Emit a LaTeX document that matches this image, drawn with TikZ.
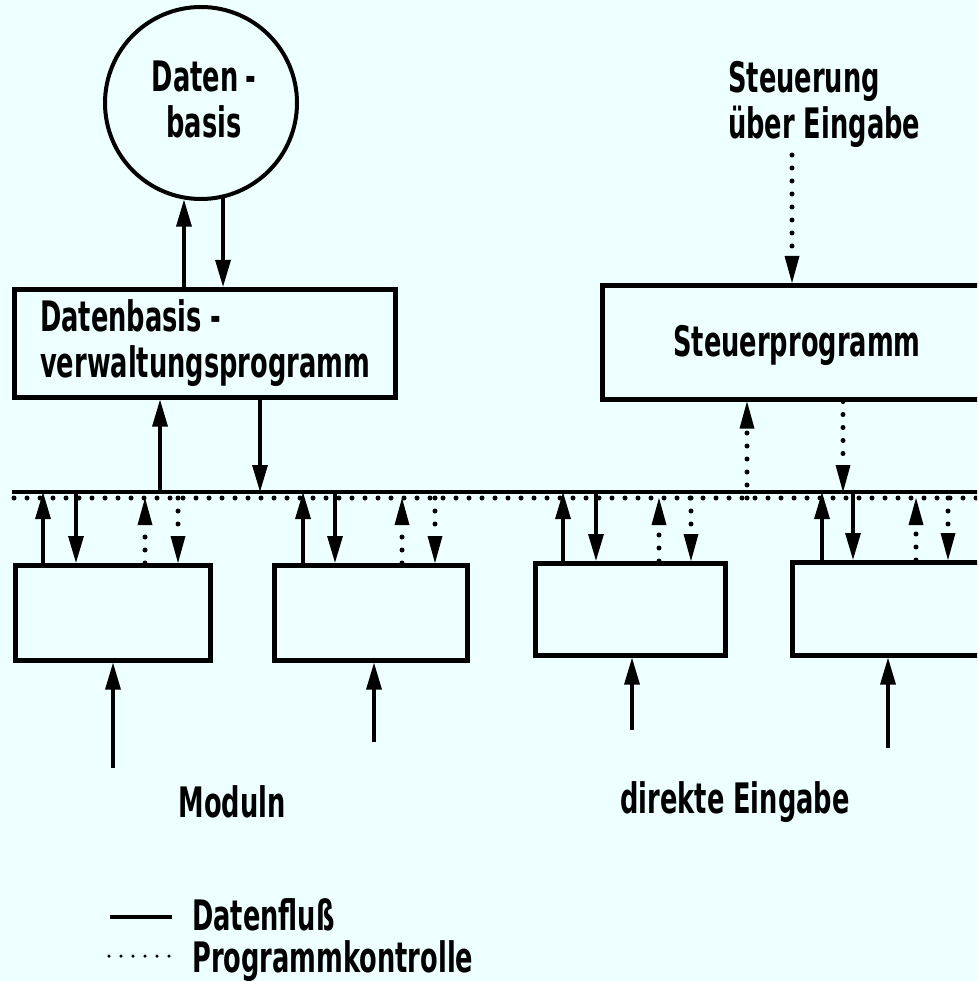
\documentclass[tikz,border=0pt]{standalone}
\usepackage{fontspec}
\usetikzlibrary{arrows.meta,calc}
\newfontfamily\dinfont{DejaVu Sans Condensed Bold}[FakeStretch=0.68]
\definecolor{paper}{HTML}{EEFFFF}
\tikzset{
  box/.style={draw, line width=4.5pt, rectangle, inner sep=0pt, anchor=north west},
  lbl/.style={font=\dinfont\fontsize{42}{46}\selectfont, inner sep=0pt, align=left},
  flow/.style={line width=3.2pt, -{Triangle[length=27pt,width=15pt]}},
  ctrl/.style={line width=5pt, line cap=round, dash pattern=on 0pt off 13pt,
               -{Triangle[length=27pt,width=15pt,line width=0pt]}},
  busline/.style={line width=4pt},
  busdots/.style={line width=5pt, line cap=round, dash pattern=on 0pt off 13pt},
}
\begin{document}
\begin{tikzpicture}[x=1pt,y=-1pt]
  \fill[paper] (0,0) rectangle (977,981);
  \useasboundingbox (0,0) rectangle (977,981);
  \clip (0,0) rectangle (977,981);

  % database and its management program
  \node[circle, draw, line width=4pt, minimum size=192pt, inner sep=0pt] (db) at (201,103) {};
  \node[lbl, align=center, anchor=center] (dbtext) at (204,99) {Daten\,-\\basis};
  \node[box, minimum width=381pt, minimum height=108pt] (dbv) at (12,287) {};
  \node[lbl, anchor=north west] (dbvtext) at (40,299) {Datenbasis -\\verwaltungsprogramm};

  \draw[flow] (db.260 |- dbv.north) -- (db.260);
  \draw[flow] (db.283) -- (db.283 |- dbv.north);

  % control program
  \node[box, minimum width=400pt, minimum height=114pt] (steu) at (600,283) {};
  \node[lbl, anchor=center] (steutext) at (797,345) {Steuerprogramm};
  \node[lbl, anchor=north west] (steuin) at (728,61) {Steuerung\\über Eingabe};
  \coordinate (steuinend) at (792,155);
  \draw[ctrl] (steuinend) -- (steuinend |- steu.north);

  % bus: data line and control line
  \coordinate (busS) at (12,492);
  \coordinate (busSend) at (990,492);
  \coordinate (busD) at (14,498);
  \coordinate (busDend) at (990,498);
  \draw[busline] (busS) -- (busSend);
  \draw[busdots] (busD) -- (busDend);

  % management program <-> bus
  \coordinate (dbvup) at ($(dbv.south west)+(148,0)$);
  \coordinate (dbvdn) at ($(dbv.south west)+(248,0)$);
  \draw[flow] (dbvup |- busS) -- (dbvup);
  \draw[flow] (dbvdn) -- (dbvdn |- busS);

  % control program <-> bus
  \coordinate (steuup) at ($(steu.south west)+(147,0)$);
  \coordinate (steudn) at ($(steu.south west)+(243,0)$);
  \draw[ctrl] (steuup |- busD) -- (steuup);
  \draw[ctrl] (steudn) -- (steudn |- busS);

  % modules
  \node[box, minimum width=195pt, minimum height=95pt] (m1) at (13,563) {};
  \node[box, minimum width=193pt, minimum height=95pt] (m2) at (272,563) {};
  \node[box, minimum width=190pt, minimum height=92pt] (m3) at (533,561) {};
  \node[box, minimum width=200pt, minimum height=93pt] (m4) at (790,560) {};

  \foreach \m/\a/\b/\c/\d in {m1/30/63/132/165, m2/31/63/130/163, m3/30/63/126/158, m4/32/63/126/158}{
    \coordinate (\m a) at ($(\m.north west)+(\a,0)$);
    \coordinate (\m b) at ($(\m.north west)+(\b,0)$);
    \coordinate (\m c) at ($(\m.north west)+(\c,0)$);
    \coordinate (\m d) at ($(\m.north west)+(\d,0)$);
    \draw[flow] (\m a) -- (\m a |- busS);
    \draw[flow] (\m b |- busS) -- (\m b);
    \draw[ctrl] (\m c) -- (\m c |- busD);
    \draw[ctrl] (\m d |- busD) -- (\m d);
  }

  % direct inputs into the modules
  \coordinate (in1) at (113,768);
  \coordinate (in2) at (374,742);
  \coordinate (in3) at (632,730);
  \coordinate (in4) at (888,748);
  \draw[flow] (in1) -- (in1 |- m1.south);
  \draw[flow] (in2) -- (in2 |- m2.south);
  \draw[flow] (in3) -- (in3 |- m3.south);
  \draw[flow] (in4) -- (in4 |- m4.south);

  \node[lbl, anchor=center] (moduln) at (232,802) {Moduln};
  \node[lbl, anchor=center] (direkt) at (735,802) {direkte Eingabe};

  % legend
  \coordinate (lgA) at (110,917);
  \coordinate (lgB) at (172,917);
  \coordinate (lgC) at (109,956);
  \coordinate (lgD) at (170,956);
  \draw[line width=3.2pt] (lgA) -- (lgB);
  \draw[line width=3.5pt, line cap=round, dash pattern=on 0pt off 12pt] (lgC) -- (lgD);
  \node[lbl, anchor=base west] (lgdata) at (192,930) {Datenfluß};
  \node[lbl, anchor=base west] (lgctrl) at (192,972) {Programmkontrolle};
\end{tikzpicture}
\end{document}
